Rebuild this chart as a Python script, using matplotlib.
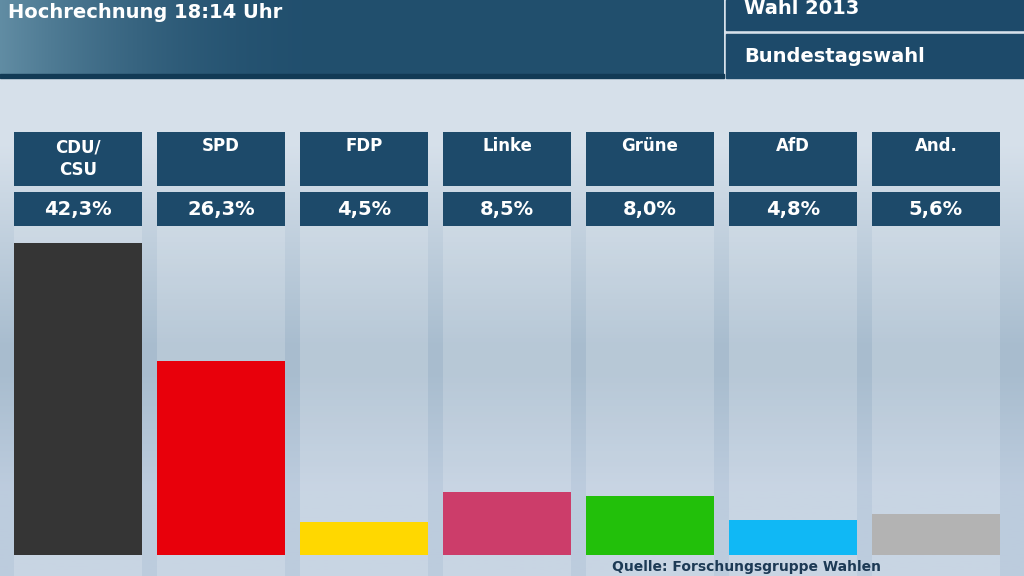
import matplotlib
matplotlib.use("Agg")
import matplotlib.pyplot as plt
import numpy as np
from matplotlib.patches import Rectangle

parties = ["CDU/\nCSU", "SPD", "FDP", "Linke", "Grüne", "AfD", "And."]
values = [42.3, 26.3, 4.5, 8.5, 8.0, 4.8, 5.6]
labels = ["42,3%", "26,3%", "4,5%", "8,5%", "8,0%", "4,8%", "5,6%"]
colors = ["#353535", "#e8000b", "#ffd800", "#cc3d6a", "#22c00a", "#10b8f5", "#b3b3b3"]
title = "Hochrechnung 18:14 Uhr"
box1 = "Wahl 2013"
box2 = "Bundestagswahl"

W, H = 1024, 576
fig = plt.figure(figsize=(10.24, 5.76), dpi=100)

bg = fig.add_axes([0, 0, 1, 1])
bg.set_xlim(0, W); bg.set_ylim(H, 0); bg.axis("off")
ys = np.linspace(0, 1, 200)
top = np.array([0.84, 0.88, 0.92]); mid = np.array([0.66, 0.74, 0.81]); bot = np.array([0.74, 0.80, 0.87])
grad = np.array([top + (mid - top) * min(1, max(0, (y - 0.25) / 0.35)) if y < 0.65 else mid + (bot - mid) * min(1, (y - 0.65) / 0.2) for y in ys])
bg.imshow(grad[:, None, :], extent=[0, W, H, 0], aspect="auto")

# header
t = np.clip(np.linspace(0, 1, 300) * 2.2, 0, 1)
dark = np.array([0.13, 0.31, 0.43]); light = np.array([0.38, 0.55, 0.64])
hc = np.array([dark + (light - dark) * (1 - v) ** 2 for v in t])
bg.imshow(hc[None, :, :], extent=[0, 724, 78, 0], aspect="auto")
bg.add_patch(Rectangle((0, 74), 724, 4, color="#123a55"))
bg.add_patch(Rectangle((726, 0), W - 726, 30, color="#1d4a6a"))
bg.add_patch(Rectangle((726, 34), W - 726, 44, color="#1d4a6a"))
bg.text(8, 12, title, color="white", fontsize=14, fontweight="bold", va="center")
bg.text(744, 9, box1, color="white", fontsize=14, fontweight="bold", va="center")
bg.text(744, 57, box2, color="white", fontsize=14, fontweight="bold", va="center")

step = 143.0
x0 = 78.0
for i, (p, l) in enumerate(zip(parties, labels)):
    cx = x0 + step * i
    bg.add_patch(Rectangle((cx - 64, 226), 128, H - 226, color="white", alpha=0.18, lw=0))
    bg.add_patch(Rectangle((cx - 64, 132), 128, 54, color="#1d4a6a", lw=0))
    bg.add_patch(Rectangle((cx - 64, 192), 128, 34, color="#1d4a6a", lw=0))
    bg.text(cx, 159 if "\n" in p else 146, p, color="white", fontsize=12, fontweight="bold",
            ha="center", va="center", linespacing=1.3)
    bg.text(cx, 209, l, color="white", fontsize=14, fontweight="bold", ha="center", va="center")
bg.text(612, 574, "Quelle: Forschungsgruppe Wahlen", color="#1d3a55", fontsize=10,
        fontweight="bold", va="bottom")

pxpp = (555 - 243) / 42.3
ax = fig.add_axes([0, (H - 555) / H, 1, (555 - 226) / H])
ax.patch.set_alpha(0)
ax.set_xlim(-x0 / step, (W - x0) / step)
ax.set_ylim(0, (555 - 226) / pxpp)
ax.bar(np.arange(len(values)), values, width=128 / step, color=colors)
ax.axis("off")

fig.savefig("out.png", dpi=100)
